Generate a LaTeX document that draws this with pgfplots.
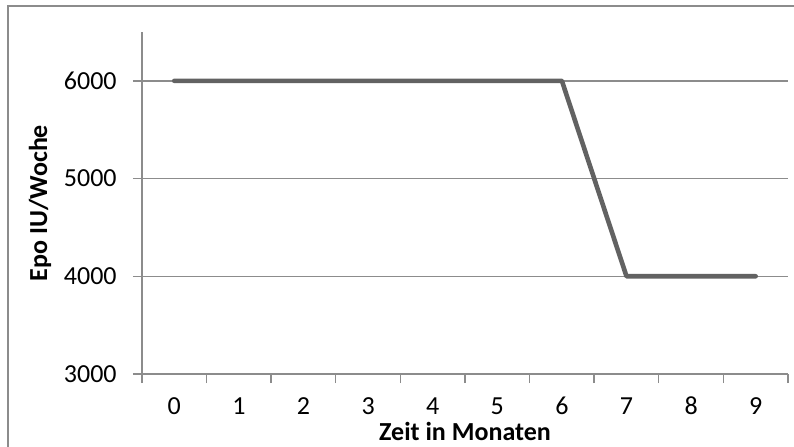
\documentclass[border=0pt]{standalone}
\usepackage{pgfplots}
\pgfplotsset{compat=1.18}
\usepackage{fontspec}
\setmainfont{Carlito}
\definecolor{axgray}{HTML}{8C8C8C}
\definecolor{linegray}{HTML}{626262}
\begin{document}
\fontsize{13}{15}\selectfont
\begin{tikzpicture}
\useasboundingbox (0,0) rectangle (397pt,-223pt);
\draw[axgray, line width=0.7pt] (4pt,-3pt) rectangle (420pt,-240pt);
\begin{axis}[
  at={(71pt,-187pt)}, anchor=south west,
  scale only axis, width=323pt, height=171pt,
  xmin=-0.5, xmax=9.5, ymin=3000, ymax=6500,
  axis x line*=bottom, axis y line*=left,
  axis line style={axgray, line width=0.7pt, -},
  xtick={-0.5,0.5,...,9.5}, xticklabels={},
  extra x ticks={0,1,...,9},
  extra x tick labels={0,1,2,3,4,5,6,7,8,9},
  extra x tick style={major tick length=0pt, xticklabel style={anchor=center, inner sep=0pt, yshift=-16pt}},
  ytick={3000,4000,5000,6000},
  tick align=outside, major tick length=4.5pt,
  tick style={axgray, line width=0.7pt},
  ymajorgrids, grid style={axgray, line width=0.7pt},
  /pgf/number format/assume math mode=true,
  /pgf/number format/1000 sep={},
  yticklabel style={anchor=east, inner sep=0pt, xshift=-8pt},
  xlabel={\textbf{Zeit in Monaten}},
  ylabel={\textbf{Epo IU/Woche}},
  xlabel style={at={(axis description cs:0.5,0)}, anchor=center, inner sep=0pt, yshift=-28.5pt},
  ylabel style={at={(axis description cs:0,0.5)}, anchor=center, rotate=0, yshift=51pt},
  clip=false,
]
\addplot[linegray, line width=2.3pt, line cap=round, line join=round] coordinates {
  (0,6000) (1,6000) (2,6000) (3,6000) (4,6000) (5,6000) (6,6000) (7,4000) (8,4000) (9,4000)
};
\end{axis}
\end{tikzpicture}
\end{document}
